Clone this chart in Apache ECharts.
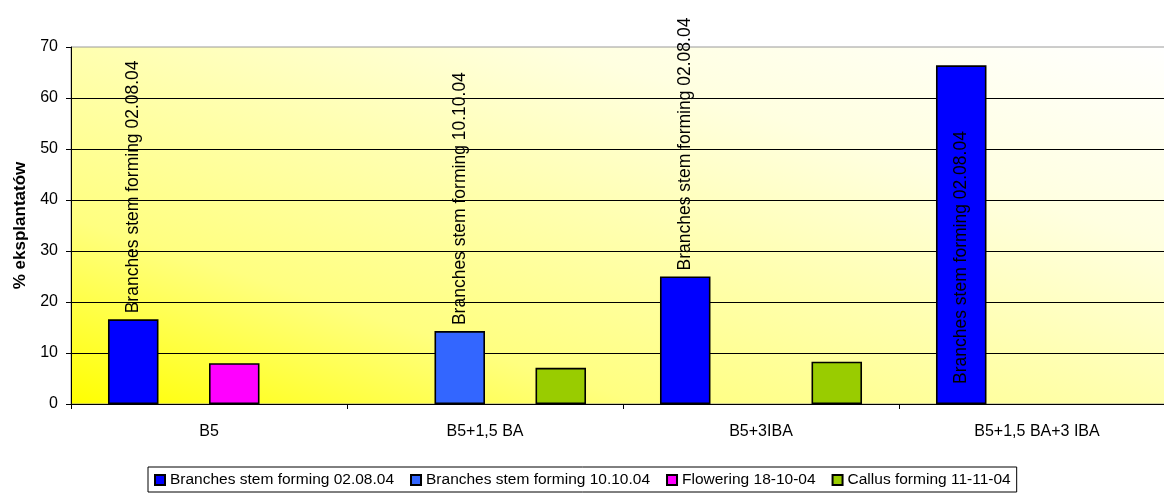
<!DOCTYPE html>
<html>
<head>
<meta charset="utf-8">
<script src="https://cdn.jsdelivr.net/npm/echarts@6/dist/echarts.min.js"></script>
<style>
  html, body { margin: 0; padding: 0; background: #fff; overflow: hidden; }
  /* the plot area runs slightly past the right edge of the window */
  #chart { width: 1176px; height: 493px; }
</style>
</head>
<body>
<div id="chart"></div>
<script>
// Treatments along the category axis
const categories = ['B5', 'B5+1,5 BA', 'B5+3IBA', 'B5+1,5 BA+3 IBA'];

// Percent of explants per observation (null = not observed)
const branches0208 = [16.6, null, 25, 66.4];
const branches1010 = [null, 14.3, null, null];
const flowering1810 = [8, null, null, null];
const callus1111 = [null, 7.1, 8.3, null];

const seriesNames = [
  'Branches stem forming 02.08.04',
  'Branches stem forming 10.10.04',
  'Flowering 18-10-04',
  'Callus forming 11-11-04'
];

const yTicks = { min: 0, max: 70, step: 10 };

const colors = ['#0000FF', '#3366FF', '#FF00FF', '#99CC00'];
const FONT = '"Liberation Sans", Arial, sans-serif';

// plot area geometry
const PLOT = { left: 71, top: 47, width: 1104, height: 357 };

const chart = echarts.init(document.getElementById('chart'), null, { renderer: 'canvas' });

// Yellow-to-white wash whose bands run parallel to the plot's
// top-left / bottom-right diagonal, brightest in the top-right corner.
function diagonalWash() {
  const W = PLOT.width, H = PLOT.height;
  const k = (2 * W * H) / (W * W + H * H);
  const x0 = PLOT.left, y0 = PLOT.top + H;
  return new echarts.graphic.LinearGradient(
    x0, y0, x0 + H * k, y0 - W * k,
    [
      { offset: 0, color: '#FFFF00' },
      { offset: 0.26, color: '#FFFF80' },
      { offset: 0.5, color: '#FFFFB0' },
      { offset: 0.72, color: '#FFFFE0' },
      { offset: 1, color: '#FFFFFF' }
    ],
    true
  );
}

function vLabel(position, distance) {
  return {
    show: true,
    position: position,
    distance: distance,
    rotate: 90,
    align: 'left',
    verticalAlign: 'middle',
    color: '#000',
    fontFamily: FONT,
    fontSize: 17.5,
    formatter: (p) => p.seriesName
  };
}

function toData(arr, labelFor) {
  return arr.map((v, i) => {
    if (v === null) return '-';
    const item = { value: v };
    const lab = labelFor ? labelFor(i) : undefined;
    if (lab) item.label = lab;
    return item;
  });
}

function barSeries(idx, values, extra) {
  return Object.assign({
    type: 'bar',
    name: seriesNames[idx],
    barGap: '0%',
    barCategoryGap: '26.8%',
    itemStyle: { color: colors[idx], borderColor: '#000', borderWidth: 1.6 },
    emphasis: { disabled: true },
    data: toData(values)
  }, extra || {});
}

const option = {
  animation: false,
  backgroundColor: '#fff',
  grid: {
    left: PLOT.left,
    top: PLOT.top,
    width: PLOT.width,
    height: PLOT.height,
    show: true,
    backgroundColor: diagonalWash(),
    borderColor: '#9a9a9a',
    borderWidth: 1
  },
  legend: {
    bottom: 1,
    left: 148,
    icon: 'rect',
    itemWidth: 10,
    itemHeight: 10,
    itemGap: 16,
    padding: [5, 6, 4, 6],
    borderColor: '#000',
    borderWidth: 1,
    backgroundColor: '#fff',
    textStyle: { fontFamily: FONT, fontSize: 15.5, color: '#000' },
    data: seriesNames
  },
  xAxis: {
    type: 'category',
    data: categories,
    axisLine: { lineStyle: { color: '#000', width: 1 } },
    axisTick: { show: true, length: 5, lineStyle: { color: '#000' } },
    axisLabel: { color: '#000', fontFamily: FONT, fontSize: 16, margin: 20 },
    splitLine: { show: false }
  },
  yAxis: {
    type: 'value',
    min: yTicks.min,
    max: yTicks.max,
    interval: yTicks.step,
    name: '% eksplantatów',
    nameLocation: 'middle',
    nameGap: 39,
    nameTextStyle: { color: '#000', fontFamily: FONT, fontSize: 17, fontWeight: 'bold' },
    axisLine: { show: true, lineStyle: { color: '#000', width: 1 } },
    axisTick: { show: true, length: 5, lineStyle: { color: '#000' } },
    axisLabel: { color: '#000', fontFamily: FONT, fontSize: 16, margin: 13 },
    splitLine: { show: true, showMaxLine: false, lineStyle: { color: '#000', width: 1 } }
  },
  series: [
    barSeries(0, branches0208, {
      label: vLabel('top', 6),
      // the tallest bar carries its name inside, near the base
      data: toData(branches0208, (i) => (i === 3 ? vLabel('insideBottom', 20) : undefined))
    }),
    barSeries(1, branches1010, { label: vLabel('top', 6) }),
    barSeries(2, flowering1810),
    barSeries(3, callus1111)
  ]
};

chart.setOption(option);
</script>
</body>
</html>
